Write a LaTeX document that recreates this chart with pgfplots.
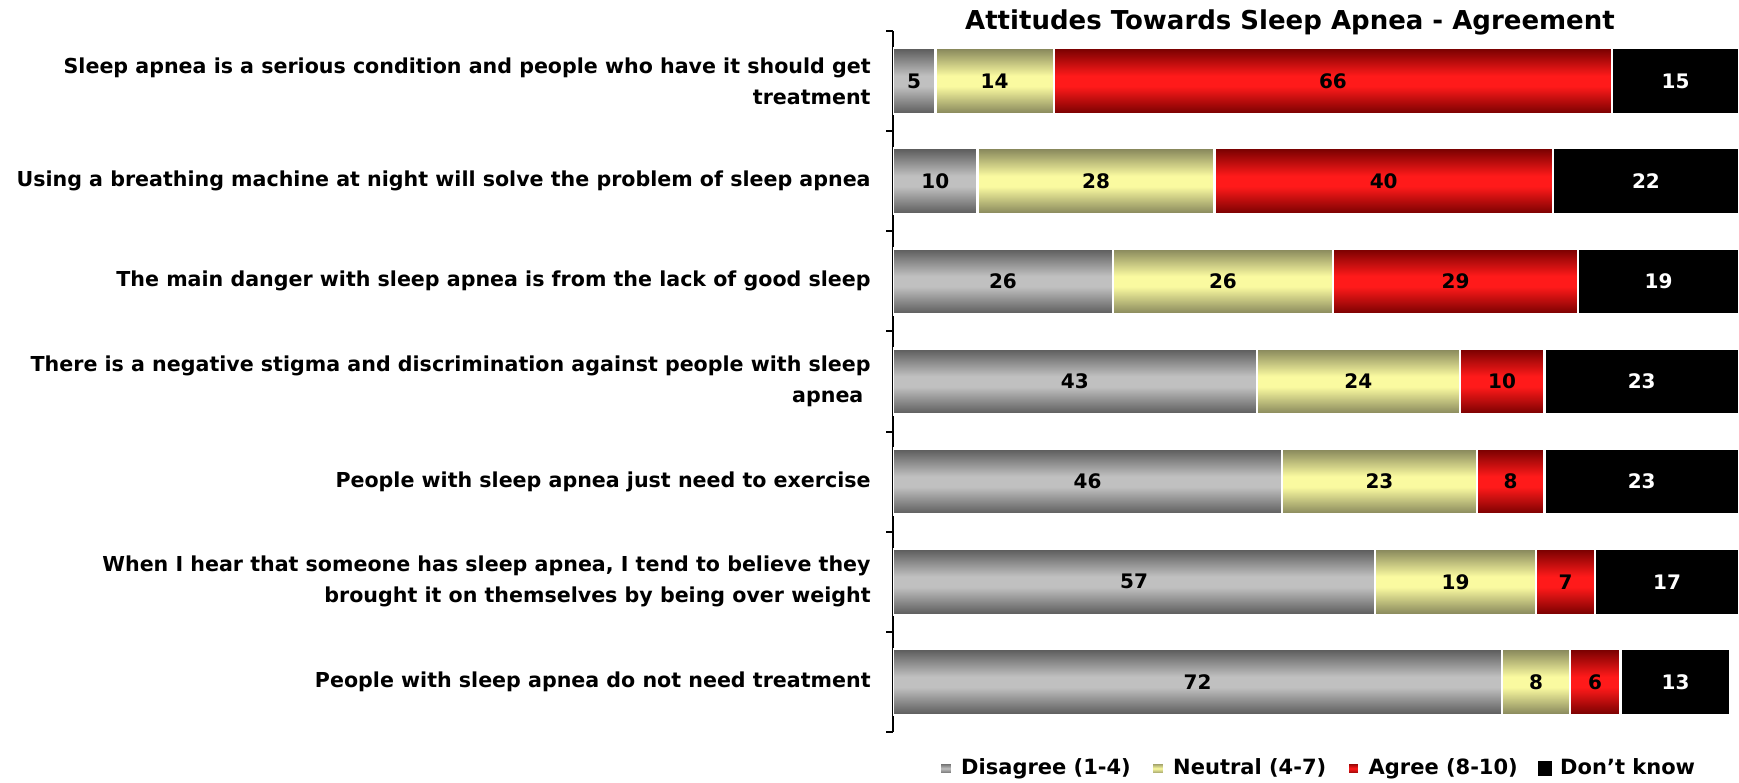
\documentclass[border=0pt]{standalone}
\usepackage{fontspec}
\setmainfont{DejaVu Sans}
\usepackage{pgfplots}
\pgfplotsset{compat=1.18}
\definecolor{gdark}{HTML}{5A5A5A}
\definecolor{glight}{HTML}{C0C0C0}
\definecolor{ydark}{HTML}{85855A}
\definecolor{ylight}{HTML}{FAFAA0}
\definecolor{rdark}{HTML}{760000}
\definecolor{rlight}{HTML}{FF1A1A}
% one shading spanning all seven bars of a series: dark edges, light middle for each bar
\newcommand\declarebarshading[3]{%
  \pgfdeclareverticalshading{#1}{100bp}{color(0bp)=(#2); color(25bp)=(#2);
    color(27.0784bp)=(#3); color(27.8702bp)=(#3); color(29.9486bp)=(#2);
    color(32.5086bp)=(#2); color(34.5870bp)=(#3); color(35.3788bp)=(#3); color(37.4572bp)=(#2);
    color(40.0172bp)=(#2); color(42.0956bp)=(#3); color(42.8874bp)=(#3); color(44.9658bp)=(#2);
    color(47.5258bp)=(#2); color(49.6042bp)=(#3); color(50.3960bp)=(#3); color(52.4744bp)=(#2);
    color(55.0344bp)=(#2); color(57.1128bp)=(#3); color(57.9046bp)=(#3); color(59.9830bp)=(#2);
    color(62.5430bp)=(#2); color(64.6214bp)=(#3); color(65.4132bp)=(#3); color(67.4916bp)=(#2);
    color(70.0516bp)=(#2); color(72.1300bp)=(#3); color(72.9218bp)=(#3); color(75bp)=(#2);
    color(100bp)=(#2)}}
\declarebarshading{grayshade}{gdark}{glight}
\declarebarshading{yellowshade}{ydark}{ylight}
\declarebarshading{redshade}{rdark}{rlight}
\begin{document}
\begin{tikzpicture}
\useasboundingbox (0,0) rectangle (869.5pt,391pt);
\pgfplotsset{
  common/.style={
    at={(446.5pt,25pt)}, anchor=south west,
    scale only axis, width=423pt, height=350.5pt,
    xmin=0, xmax=100, ymin=-0.5, ymax=6.5, y dir=reverse,
  }
}
\begin{axis}[common,
  xbar stacked, bar width=33pt,
  axis x line=none, axis y line*=left,
  y axis line style={line width=1pt},
  ytick={0,...,6},
  yticklabels={
    {Sleep apnea is a serious condition and people who have it should get\\treatment},
    {Using a breathing machine at night will solve the problem of sleep apnea},
    {The main danger with sleep apnea is from the lack of good sleep},
    {There is a negative stigma and discrimination against people with sleep\\apnea\hspace*{0.35em}},
    {People with sleep apnea just need to exercise},
    {When I hear that someone has sleep apnea, I tend to believe they\\brought it on themselves by being over weight},
    {People with sleep apnea do not need treatment}},
  major tick length=0pt,
  minor ytick={-0.5,0.5,1.5,2.5,3.5,4.5,5.5,6.5},
  minor tick length=3.5pt,
  tick align=outside,
  minor tick style={line width=1pt, black},
  yticklabel style={align=right, inner sep=0pt, font=\bfseries\fontsize{10.3}{15.5}\selectfont, xshift=-11pt},
  legend style={at={(axis description cs:0.5035,-0.052)}, anchor=center, draw=none,
    font=\bfseries\fontsize{10.5}{12}\selectfont,
    /tikz/every odd column/.append style={column sep=2pt},
    /tikz/every even column/.append style={column sep=8pt}},
  legend columns=4,
]
\addplot[draw=white, line width=1.2pt, shade, shading=grayshade,
  legend image code/.code={\shade[top color=gdark,bottom color=gdark,middle color=glight] (0pt,-3pt) rectangle (6pt,3pt);}]
  coordinates {(5,0) (10,1) (26,2) (43,3) (46,4) (57,5) (72,6)};
\addplot[draw=white, line width=1.2pt, shade, shading=yellowshade,
  legend image code/.code={\shade[top color=ydark,bottom color=ydark,middle color=ylight] (0pt,-3pt) rectangle (6pt,3pt);}]
  coordinates {(14,0) (28,1) (26,2) (24,3) (23,4) (19,5) (8,6)};
\addplot[draw=white, line width=1.2pt, shade, shading=redshade,
  legend image code/.code={\shade[top color=rdark,bottom color=rdark,middle color=rlight] (0pt,-3pt) rectangle (6pt,3pt);}]
  coordinates {(66,0) (40,1) (29,2) (10,3) (8,4) (7,5) (6,6)};
\addplot[draw=white, line width=1.2pt, fill=black,
  legend image code/.code={\fill[black] (0pt,-3pt) rectangle (6pt,3pt);}]
  coordinates {(15,0) (22,1) (19,2) (23,3) (23,4) (17,5) (13,6)};
\legend{Disagree (1-4), Neutral (4-7), Agree (8-10), Don’t know}
\end{axis}
\begin{axis}[common, hide axis,
  nodes near coords, point meta=explicit symbolic,
  nodes near coords style={anchor=center, font=\bfseries\fontsize{10}{12}\selectfont, text=black}]
\addplot[draw=none, mark=none] coordinates {
  (2.5,0) [5] (5,1) [10] (13,2) [26] (21.5,3) [43] (23,4) [46] (28.5,5) [57] (36,6) [72]};
\addplot[draw=none, mark=none] coordinates {
  (12,0) [14] (24,1) [28] (39,2) [26] (55,3) [24] (57.5,4) [23] (66.5,5) [19] (76,6) [8]};
\addplot[draw=none, mark=none] coordinates {
  (52,0) [66] (58,1) [40] (66.5,2) [29] (72,3) [10] (73,4) [8] (79.5,5) [7] (83,6) [6]};
\addplot[draw=none, mark=none, nodes near coords style={text=white}] coordinates {
  (92.5,0) [15] (89,1) [22] (90.5,2) [19] (88.5,3) [23] (88.5,4) [23] (91.5,5) [17] (92.5,6) [13]};
\end{axis}
\node[font=\bfseries\fontsize{13}{15}\selectfont] at (645pt,380pt) {Attitudes Towards Sleep Apnea - Agreement};
\end{tikzpicture}
\end{document}
